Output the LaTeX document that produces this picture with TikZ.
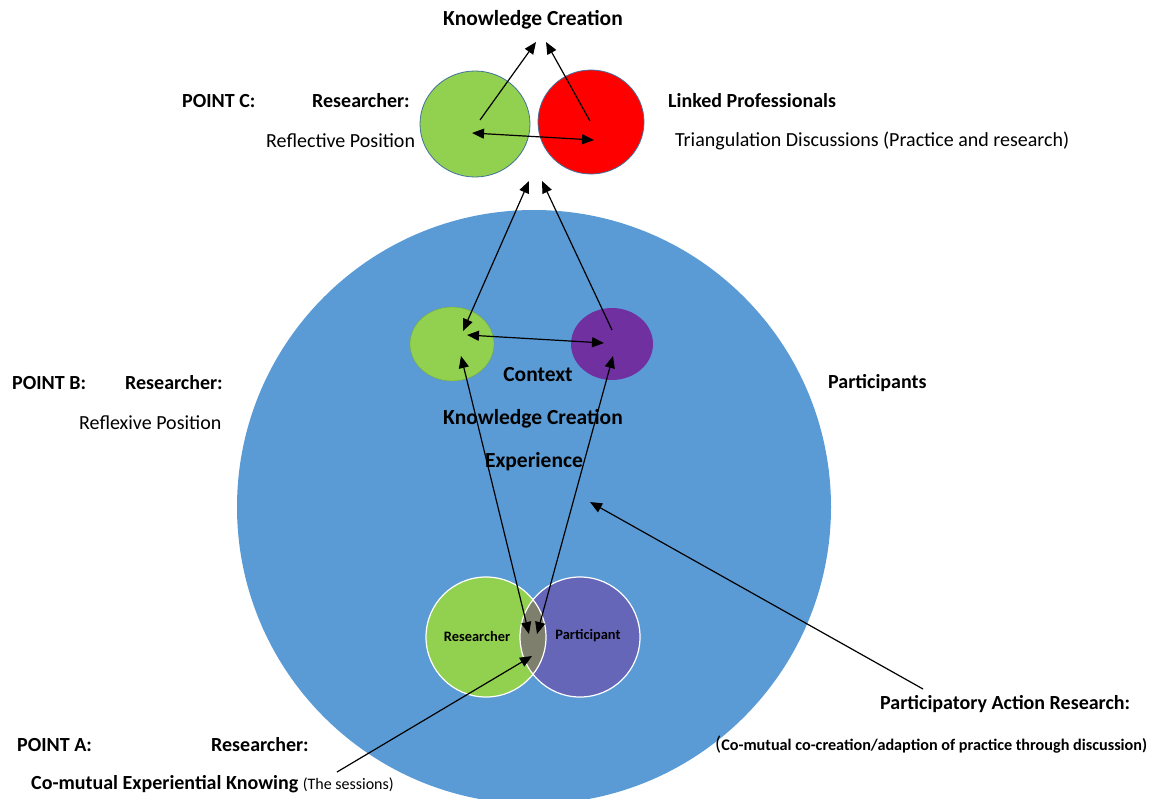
\documentclass[tikz,border=0pt]{standalone}
\usepackage{fontspec}
\setmainfont{Carlito}
\usetikzlibrary{arrows.meta,shapes.geometric}
\begin{document}
\definecolor{bigblue}{HTML}{5B9BD5}
\definecolor{leafgreen}{HTML}{92D050}
\definecolor{hotred}{HTML}{FF0000}
\definecolor{deeppurple}{HTML}{7030A0}
\definecolor{softpurple}{HTML}{6666B8}
\definecolor{overlapgray}{HTML}{7F7F6E}
\definecolor{rimblue}{HTML}{41719C}
\tikzset{
  bubble/.style={ellipse, draw=rimblue, line width=0.8pt, inner sep=0pt},
  head/.style={font=\fontsize{20}{22}\selectfont\bfseries},
  core/.style={font=\fontsize{21.5}{24}\selectfont\bfseries},
  body/.style={font=\fontsize{20}{22}\selectfont},
  lbl/.style={inner sep=0pt, anchor=west},
  link/.style={line width=1.2pt, -{Triangle[length=12pt,width=10pt]}},
  dlink/.style={line width=1.2pt, {Triangle[length=12pt,width=10pt]}-{Triangle[length=12pt,width=10pt]}}
}
\begin{tikzpicture}[x=1pt,y=-1pt]
\useasboundingbox (0,0) rectangle (1164,798);

% large context circle
\begin{scope}
\clip (0,0) rectangle (1164,798);
\fill[bigblue] (534,507) circle (297);
\end{scope}

% top pair
\node[bubble, fill=leafgreen, minimum width=110pt, minimum height=106pt] (cg) at (475,124) {};
\node[bubble, fill=hotred, minimum width=106pt, minimum height=104pt] (cr) at (591,122) {};

% middle pair
\node[ellipse, fill=leafgreen, draw=leafgreen!80!black, line width=0.4pt, minimum width=84pt, minimum height=74pt, inner sep=0pt] (bg) at (452,344) {};
\node[ellipse, fill=deeppurple, minimum width=82pt, minimum height=72pt, inner sep=0pt] (bp) at (612,344) {};

% Venn pair
\fill[leafgreen] (486,637) circle (60);
\fill[softpurple] (580,637) circle (60);
\begin{scope}
\clip (486,637) circle (60);
\fill[overlapgray] (580,637) circle (60);
\end{scope}
\draw[white, line width=1.2pt] (486,637) circle (60);
\draw[white, line width=1.2pt] (580,637) circle (60);
\node[font=\fontsize{14.4}{16}\selectfont\bfseries] (vr) at (477,636) {Researcher};
\node[font=\fontsize{14.4}{16}\selectfont\bfseries] (vp) at (588,636) {Participant};

% arrow anchor points
\coordinate (kcL) at (536,42);
\coordinate (kcR) at (546,42);
\coordinate (cgA) at (480,120);
\coordinate (crA) at (590,121);
\coordinate (cgB) at (472,133);
\coordinate (crB) at (594,140);
\coordinate (upL) at (529,181);
\coordinate (upR) at (542,181);
\coordinate (bgT) at (463,331);
\coordinate (bpT) at (612,330);
\coordinate (bgM) at (467,335);
\coordinate (bpM) at (604,343);
\coordinate (bgB) at (461,356);
\coordinate (bpB) at (613,356);
\coordinate (vL) at (529,634);
\coordinate (vR) at (537,634);
\coordinate (vA) at (532,656);
\coordinate (ceA) at (337,772);
\coordinate (ctr) at (590,502);
\coordinate (parA) at (923,689);

% connectors
\draw[link] (cgA) -- (kcL);
\draw[link] (crA) -- (kcR);
\draw[dlink] (cgB) -- (crB);
\draw[dlink] (bgT) -- (upL);
\draw[link] (bpT) -- (upR);
\draw[dlink] (bgM) -- (bpM);
\draw[dlink] (vL) -- (bgB);
\draw[dlink] (vR) -- (bpB);
\draw[link] (ceA) -- (vA);
\draw[link] (parA) -- (ctr);

% texts
\node[core] (kc) at (533,20) {Knowledge Creation};
\node[head, lbl] (pc) at (182,101) {POINT C:};
\node[head, lbl] (pcr) at (312,101) {Researcher:};
\node[body, lbl] (pcp) at (266,141) {Reflective Position};
\node[head, lbl] (lp) at (668,101) {Linked Professionals};
\node[body, lbl] (td) at (675,141) {Triangulation Discussions (Practice and research)};

\node[head, lbl] (pb) at (12,383) {POINT B:};
\node[head, lbl] (pbr) at (125,383) {Researcher:};
\node[body, lbl] (pbp) at (79,423) {Reflexive Position};
\node[head, lbl] (pt) at (828,383) {Participants};

\node[core] (ctx) at (538,375) {Context};
\node[core] (kc2) at (533,419) {Knowledge Creation};
\node[core] (exp) at (534,462) {Experience};

\node[head, lbl] (pa) at (17,745) {POINT A:};
\node[head, lbl] (par) at (211,745) {Researcher:};
\node[lbl] (cek) at (31,784) {\fontsize{20}{22}\selectfont\bfseries Co-mutual Experiential Knowing \fontsize{16}{18}\mdseries\selectfont(The sessions)};

\node[head, lbl] (parh) at (880,704) {Participatory Action Research:};
\node[lbl] (pard) at (715,745) {\fontsize{20}{22}\selectfont(\fontsize{16.2}{18}\bfseries\selectfont Co-mutual co-creation/adaption of practice through discussion)};
\end{tikzpicture}
\end{document}
